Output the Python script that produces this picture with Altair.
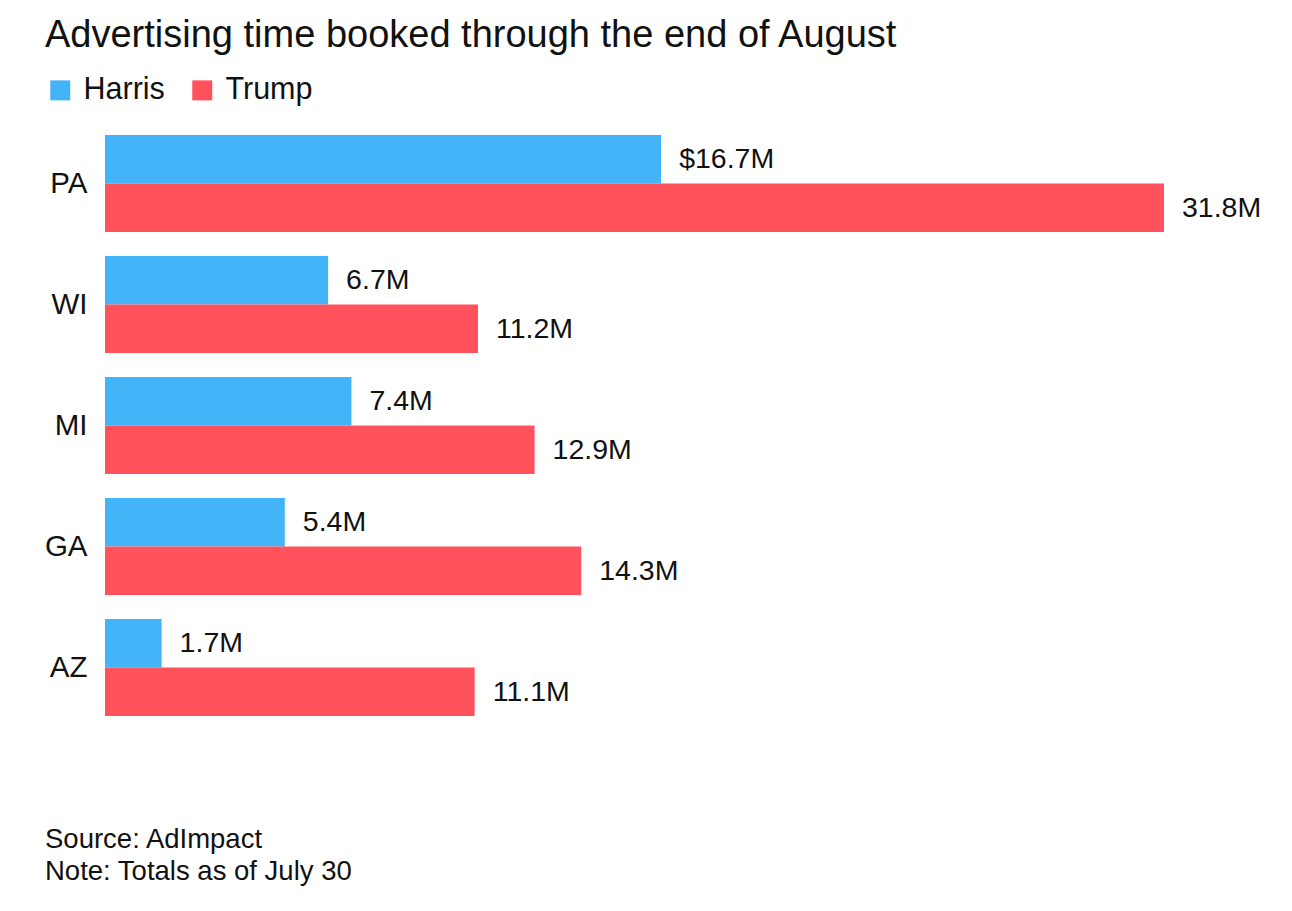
import altair as alt
import pandas as pd

# ---- data ----
states = ["PA", "WI", "MI", "GA", "AZ"]
parties = ["Harris", "Trump"]
harris = [16.7, 6.7, 7.4, 5.4, 1.7]
trump = [31.8, 11.2, 12.9, 14.3, 11.1]
harris_labels = ["$16.7M", "6.7M", "7.4M", "5.4M", "1.7M"]
trump_labels = ["31.8M", "11.2M", "12.9M", "14.3M", "11.1M"]
colors = ["#44b4f8", "#ff525d"]
title_text = "Advertising time booked through the end of August"
footer_lines = ["Source: AdImpact", "Note: Totals as of July 30"]

rows = []
for i, s in enumerate(states):
    rows.append({"state": s, "party": "Harris", "value": harris[i], "label": harris_labels[i]})
    rows.append({"state": s, "party": "Trump", "value": trump[i], "label": trump_labels[i]})
df = pd.DataFrame(rows)

FONT = "Liberation Sans"
TXT = "#111111"

base = alt.Chart(df).encode(
    y=alt.Y(
        "state:N",
        sort=states,
        scale=alt.Scale(paddingInner=0.2, paddingOuter=0.1),
        axis=alt.Axis(
            title=None, domain=False, ticks=False, labelFontSize=29.5,
            labelPadding=18, labelColor=TXT, labelFont=FONT,
        ),
    ),
    yOffset=alt.YOffset("party:N", sort=parties, scale=alt.Scale(paddingInner=0, paddingOuter=0)),
)

xscale = alt.Scale(domain=[0, 31.8], nice=False, zero=True)

bars = base.mark_bar(strokeWidth=0).encode(
    x=alt.X("value:Q", scale=xscale, axis=None),
    color=alt.Color(
        "party:N",
        scale=alt.Scale(domain=parties, range=colors),
        legend=alt.Legend(
            title=None, orient="none", legendX=-60, legendY=-48,
            direction="horizontal", symbolType="square", symbolSize=400,
            symbolStrokeWidth=0, symbolOpacity=1, labelFontSize=30.5,
            labelFont=FONT, labelColor=TXT, labelOffset=8, columnPadding=22,
        ),
    ),
)

texts = base.mark_text(align="left", baseline="middle", dx=18, fontSize=28.5, font=FONT, color=TXT).encode(
    x=alt.X("value:Q", scale=xscale),
    text="label:N",
)

foot1 = alt.Chart(pd.DataFrame({"t": [footer_lines[0]]})).mark_text(
    align="left", baseline="middle", fontSize=27.5, font=FONT, color=TXT
).encode(x=alt.value(-60), y=alt.value(717), text="t:N")
foot2 = alt.Chart(pd.DataFrame({"t": [footer_lines[1]]})).mark_text(
    align="left", baseline="middle", fontSize=27.5, font=FONT, color=TXT
).encode(x=alt.value(-60), y=alt.value(749), text="t:N")

chart = alt.layer(bars, texts, foot1, foot2).properties(
    width=1059,
    height=605,
    autosize=alt.AutoSizeParams(type="none"),
    padding={"left": 97, "top": 115, "right": 120, "bottom": 175},
    title=alt.TitleParams(
        title_text, anchor="start", frame="group", dx=-60, dy=37, fontSize=38,
        fontWeight="normal", color=TXT, font=FONT, baseline="alphabetic", offset=27,
    ),
).configure(background="white").configure_view(stroke=None)

chart.save("out.html", embed_options={"renderer": "svg", "actions": False})
